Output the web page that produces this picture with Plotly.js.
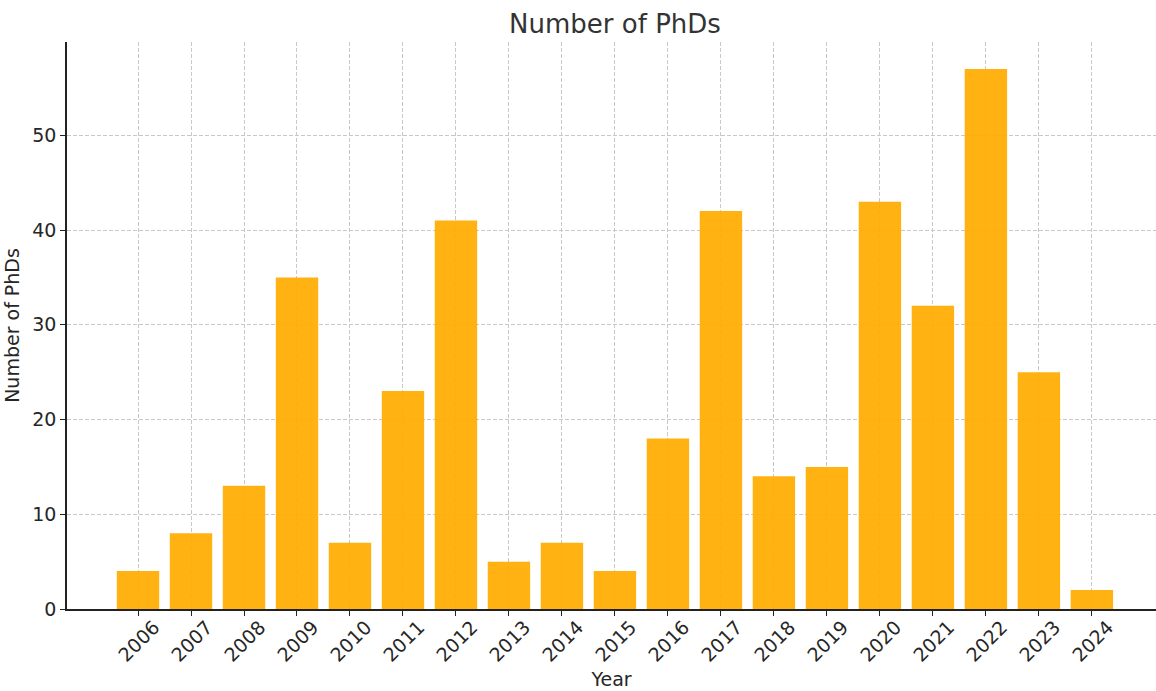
<!DOCTYPE html>
<html>
<head>
<meta charset="utf-8">
<script src="https://cdn.plot.ly/plotly-3.0.1.min.js"></script>
<style>html,body{margin:0;padding:0;background:#fff;}#chart{width:1156px;height:691px;}</style>
</head>
<body>
<div id="chart"></div>
<script>
const years = ["2006","2007","2008","2009","2010","2011","2012","2013","2014","2015","2016","2017","2018","2019","2020","2021","2022","2023","2024"];
const phds = [4,8,13,35,7,23,41,5,7,4,18,42,14,15,43,32,57,25,2];
const yTicks = [0,10,20,30,40,50];

const fam = "DejaVu Sans, sans-serif";

Plotly.newPlot("chart", [{
  type: "bar",
  x: years,
  y: phds,
  width: 0.8,
  marker: {color: "rgb(255,172,0)", opacity: 0.93, line: {width: 0}},
  hoverinfo: "x+y"
}], {
  width: 1156, height: 691,
  margin: {l: 67, r: 0, t: 42, b: 82, pad: 0},
  paper_bgcolor: "#fff", plot_bgcolor: "#fff",
  font: {family: fam, size: 19, color: "#262626"},
  title: {text: "Number of PhDs", font: {size: 26, color: "#333"}, x: 0.532, xanchor: "center", y: 0.965, yanchor: "middle"},
  showlegend: false,
  xaxis: {
    type: "category",
    range: [-1.34, 19.21],
    title: {text: "Year", font: {size: 19}, standoff: 8},
    automargin: false,
    tickangle: -45,
    ticklabelshift: 16,
    ticklabelstandoff: -7,
    ticks: "outside", ticklen: 5, tickwidth: 1.2, tickcolor: "#222",
    showline: true, linecolor: "#222", linewidth: 1.5,
    showgrid: true, gridcolor: "#c8c8c8", griddash: "4px,2px", gridwidth: 1,
    tickfont: {size: 19},
    zeroline: false
  },
  yaxis: {
    range: [0, 59.85],
    tickvals: yTicks,
    title: {text: "Number of PhDs", font: {size: 19}, standoff: 8},
    automargin: false,
    ticks: "outside", ticklen: 5, tickwidth: 1.2, tickcolor: "#222",
    showline: true, linecolor: "#222", linewidth: 1.5,
    showgrid: true, gridcolor: "#c8c8c8", griddash: "4px,2px", gridwidth: 1,
    tickfont: {size: 19},
    zeroline: false
  }
}, {displayModeBar: false});
</script>
</body>
</html>
